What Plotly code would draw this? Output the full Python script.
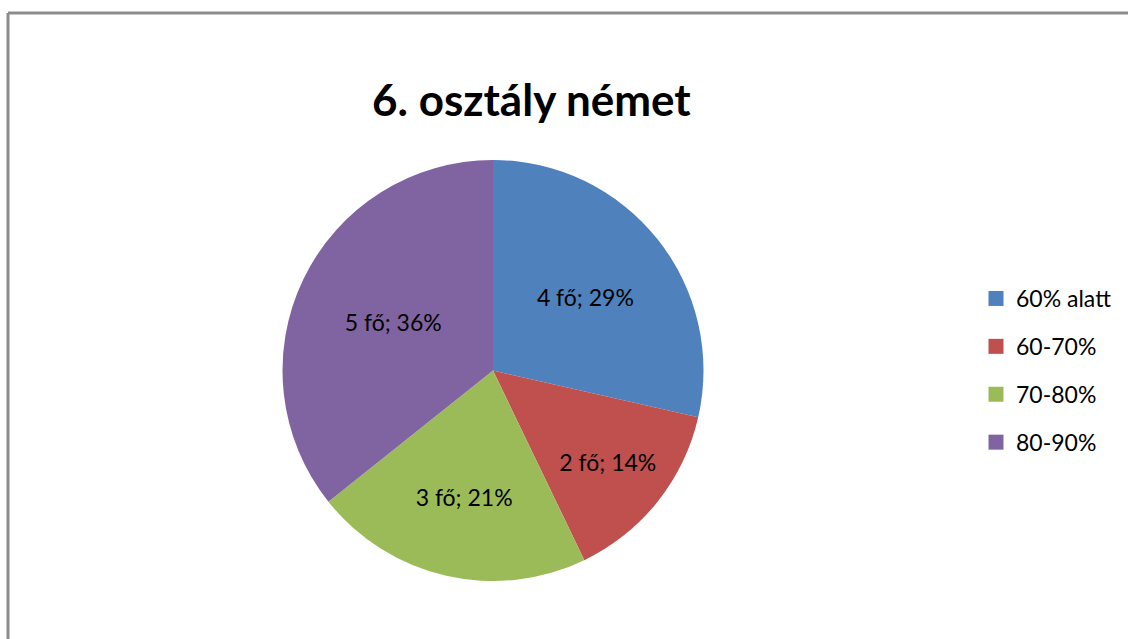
import plotly.graph_objects as go

title_text = "6. osztály német"
categories = ["60% alatt", "60-70%", "70-80%", "80-90%"]
counts = [4, 2, 3, 5]
colors = ["#4F81BD", "#C0504D", "#9BBB59", "#8064A2"]

W, H = 1128, 639
FONT = "Lato"

cx, cy, r = 493, 370.5, 210.5

fig = go.Figure()
fig.add_trace(go.Pie(
    labels=categories,
    values=counts,
    sort=False,
    direction="clockwise",
    rotation=0,
    marker=dict(colors=colors, line=dict(width=0)),
    texttemplate="%{value} fő; %{percent:.0%}",
    textposition="inside",
    insidetextorientation="horizontal",
    insidetextfont=dict(color="black", size=23, family=FONT),
    domain=dict(x=[(cx - r) / W, (cx + r) / W], y=[1 - (cy + r) / H, 1 - (cy - r) / H]),
    showlegend=False,
    hoverinfo="label+value+percent",
))

for i, (cat, col) in enumerate(zip(categories, colors)):
    fig.add_trace(go.Scatter(
        x=[None], y=[None], mode="markers",
        marker=dict(symbol="square", size=15, color=col),
        name=cat, legendgroup=cat, showlegend=True,
    ))

fig.update_layout(
    width=W, height=H,
    margin=dict(l=0, r=0, t=0, b=0),
    paper_bgcolor="white", plot_bgcolor="white",
    xaxis=dict(visible=False), yaxis=dict(visible=False),
    font=dict(family=FONT, color="black"),
    legend=dict(
        x=976 / W, y=1 - 277 / H, xanchor="left", yanchor="top",
        font=dict(size=23, family=FONT, color="black"),
        tracegroupgap=15, itemwidth=30,
        bgcolor="rgba(0,0,0,0)",
    ),
    annotations=[dict(
        text="<b>" + title_text + "</b>", x=531 / W, y=1 - 99 / H,
        xref="paper", yref="paper", xanchor="center", yanchor="middle",
        showarrow=False, font=dict(size=44, family=FONT, color="black"),
    )],
    shapes=[
        dict(type="line", xref="paper", yref="paper", x0=8 / W, x1=1.0, y0=1 - 13 / H, y1=1 - 13 / H,
             line=dict(color="#8C8C8C", width=3)),
        dict(type="line", xref="paper", yref="paper", x0=8 / W, x1=8 / W, y0=1 - 13 / H, y1=0,
             line=dict(color="#8C8C8C", width=3)),
    ],
)

fig.write_html(
    "out.html",
    config={"displayModeBar": False},
    post_script="document.body.style.margin='0';document.body.style.overflow='hidden';",
)
